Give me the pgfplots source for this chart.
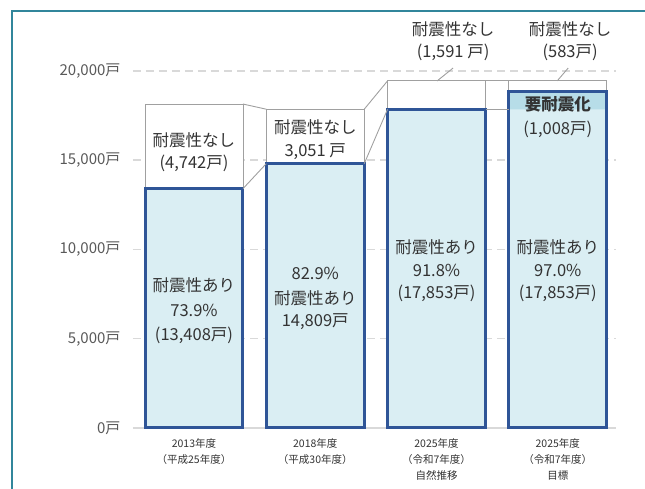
\documentclass[border=0pt]{standalone}
\usepackage{pgfplots}
\pgfplotsset{compat=1.18}
\usepackage{pgfplotstable}
\usepackage{fontspec}
\setmainfont{Noto Sans CJK JP}
\definecolor{frame}{RGB}{49,134,155}
\definecolor{barblue}{RGB}{47,85,151}
\definecolor{barfill}{RGB}{218,238,243}
\definecolor{bandfill}{RGB}{183,221,232}
\definecolor{boxgray}{RGB}{160,160,160}
\definecolor{gridgray}{RGB}{217,217,217}
\definecolor{txt}{RGB}{51,51,51}
\definecolor{ticktxt}{RGB}{89,89,89}

\pgfplotstableread{
x total band blue outline
0 18150 0 13408 13408
1 17860 0 14809 14809
2 19444 0 17853 17853
3 19444 18861 17853 18861
}\datatable

\begin{document}
\begin{tikzpicture}
\useasboundingbox (-133pt,-61pt) rectangle (512pt,428pt);
\draw[frame, line width=2pt] (-121pt,-80pt) -- (-121pt,417pt) -- (530pt,417pt);
\begin{axis}[
  at={(0pt,0pt)}, anchor=south west,
  scale only axis, width=483pt, height=357pt,
  xmin=-0.503, xmax=3.48, ymin=0, ymax=20000,
  clip=false,
  scaled y ticks=false,
  axis x line*=bottom, axis y line*=left,
  x axis line style={draw=gridgray, line width=1.8pt, -},
  y axis line style={draw=none, -},
  major tick length=0pt,
  ytick={0,5000,10000,15000,20000},
  yticklabels={{0戸},{5,000戸},{10,000戸},{15,000戸},{20,000戸}},
  yticklabel style={font=\fontsize{15}{18}\selectfont, text=ticktxt, xshift=-9pt},
  ymajorgrids,
  grid style={draw=gridgray, line width=1.5pt, dash pattern=on 8pt off 5pt},
  xtick={0,1,2,3},
  xticklabels={{2013年度\\（平成25年度）},{2018年度\\（平成30年度）},{2025年度\\（令和7年度）\\自然推移},{2025年度\\（令和7年度）\\目標}},
  xticklabel style={align=center, font=\fontsize{10.5}{16}\selectfont, text=txt, anchor=north, yshift=-7pt},
  bar width=0.808,
]
\addplot[ybar, bar shift=0pt, fill=white, draw=boxgray, line width=0.9pt] table[x=x,y=total]{\datatable};
\addplot[ybar, bar shift=0pt, fill=bandfill, draw=none] table[x=x,y=band]{\datatable};
\addplot[ybar, bar shift=0pt, fill=barfill, draw=none] table[x=x,y=blue]{\datatable};
\addplot[ybar, bar shift=0pt, fill=none, draw=barblue, line width=3pt] table[x=x,y=outline]{\datatable};
% connectors
\addplot[boxgray, line width=0.9pt, mark=none] coordinates {(0.404,18150) (0.596,17860)};
\addplot[boxgray, line width=0.9pt, mark=none] coordinates {(0.404,13408) (0.596,14809)};
\addplot[boxgray, line width=0.9pt, mark=none] coordinates {(1.404,17860) (1.596,19444)};
\addplot[boxgray, line width=0.9pt, mark=none] coordinates {(1.404,14809) (1.596,17853)};
\addplot[boxgray, line width=0.9pt, mark=none] coordinates {(2.404,19444) (2.596,19444)};
\addplot[boxgray, line width=0.9pt, mark=none] coordinates {(2.404,17853) (2.596,17853)};
% leader lines
\addplot[boxgray, line width=0.9pt, mark=none] coordinates {(2.005,19444) (2.137,20168)};
\addplot[boxgray, line width=0.9pt, mark=none] coordinates {(2.995,19444) (3.086,20168)};
% texts
\begin{scope}[every node/.style={font=\fontsize{16.5}{20}\selectfont, text=txt, inner sep=0pt}]
\node at (axis cs:0,16134) {耐震性なし};
\node at (axis cs:0,14846) {(4,742戸)};
\node at (axis cs:0,8011) {耐震性あり};
\node at (axis cs:0,6611) {73.9\%};
\node at (axis cs:0,5210) {(13,408戸)};
\node at (axis cs:1,16863) {耐震性なし};
\node at (axis cs:1,15462) {3,051 戸};
\node at (axis cs:1,8683) {82.9\%};
\node at (axis cs:1,7283) {耐震性あり};
\node at (axis cs:1,5938) {14,809戸};
\node at (axis cs:2,10140) {耐震性あり};
\node at (axis cs:2,8852) {91.8\%};
\node at (axis cs:2,7563) {(17,853戸)};
\node at (axis cs:3,10140) {耐震性あり};
\node at (axis cs:3,8852) {97.0\%};
\node at (axis cs:3,7563) {(17,853戸)};
\node at (axis cs:3,18151) {\textbf{要耐震化}};
\node at (axis cs:3,16751) {(1,008戸)};
\node at (axis cs:2.137,22353) {耐震性なし};
\node at (axis cs:2.137,21064) {(1,591 戸)};
\node at (axis cs:3.102,22353) {耐震性なし};
\node at (axis cs:3.102,21064) {(583戸)};
\end{scope}
\end{axis}
\end{tikzpicture}
\end{document}
